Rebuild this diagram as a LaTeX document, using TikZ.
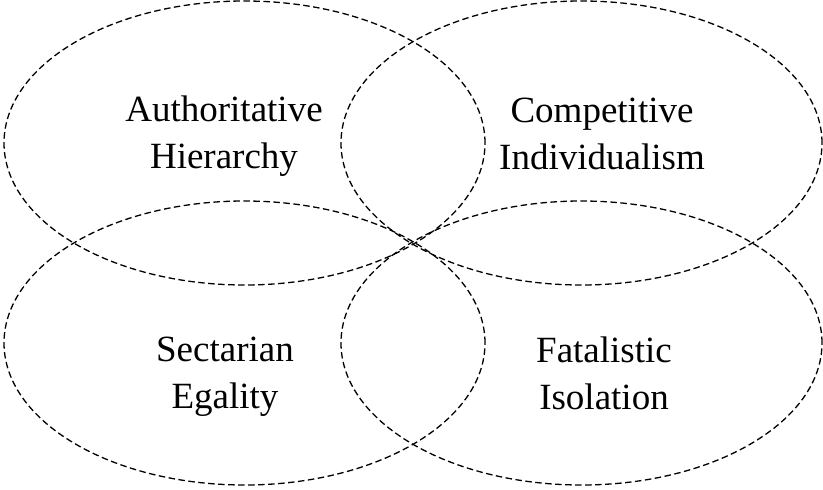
\documentclass[tikz,border=0pt]{standalone}
\usepackage{fontspec}
\setmainfont{Liberation Serif}
\usetikzlibrary {shapes.geometric}

\begin{document}
\begin{tikzpicture}[x=1pt,y=-1pt,
	grp/.style={ellipse,draw,dashed,line width=1.3pt,dash pattern=on 6.5pt off 3.5pt,
		minimum width=481pt,minimum height=284pt,inner sep=0pt},
	lbl/.style={align=center,inner sep=0pt,font=\fontsize{37}{47}\selectfont}]
	\useasboundingbox (0,0) rectangle (823,490);
	\node[grp] (hier) at (244.5,143) {};
	\node[grp] (indiv) at (581.5,143) {};
	\node[grp] (sect) at (244.5,343) {};
	\node[grp] (fatal) at (581.5,343) {};
	\node[lbl] (hiertxt) at (224,136) {Authoritative\\Hierarchy};
	\node[lbl] (indivtxt) at (602,134) {Competitive\\Individualism};
	\node[lbl] (secttxt) at (225,377) {Sectarian\\Egality};
	\node[lbl] (fataltxt) at (604,373) {Fatalistic\\Isolation};
\end{tikzpicture}
\end{document}
